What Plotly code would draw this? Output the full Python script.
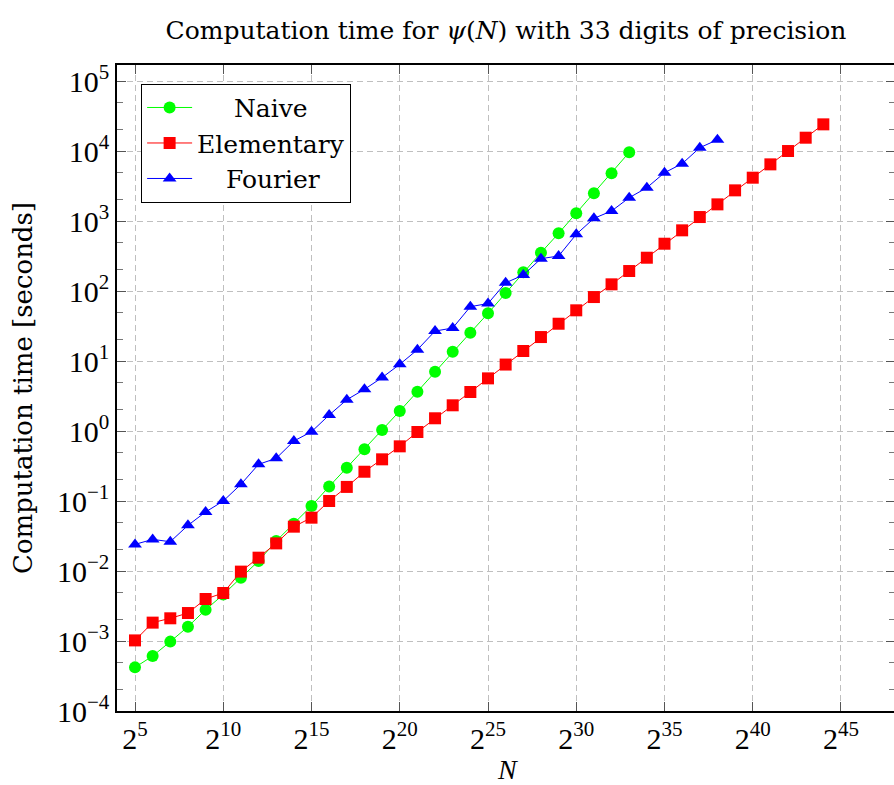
import plotly.graph_objects as go

# exponents k (N = 2^k)
naive_k = list(range(5, 34))
naive_t = [4.2e-4, 6.1e-4, 9.8e-4, 1.6e-3, 2.8e-3, 4.6e-3, 8.0e-3, 0.0139, 0.0268, 0.0474,
           0.085, 0.161, 0.299, 0.547, 1.03, 1.93, 3.65, 7.04, 13.6, 25.4,
           48.0, 94.0, 185, 353, 667, 1288, 2485, 4800, 9570]

elem_k = list(range(5, 45))
elem_t = [1.02e-3, 1.83e-3, 2.11e-3, 2.51e-3, 3.98e-3, 4.85e-3, 9.8e-3, 0.0155, 0.0248, 0.043,
          0.0578, 0.1, 0.159, 0.262, 0.394, 0.604, 0.968, 1.52, 2.33, 3.61,
          5.65, 8.9, 13.9, 22.0, 34.1, 53.0, 82.0, 124.6, 193, 299,
          474, 736, 1140, 1730, 2742, 4160, 6450, 10000, 15500, 24050]

four_k = list(range(5, 39))
four_t = [0.024, 0.0283, 0.0262, 0.0449, 0.0697, 0.1, 0.173, 0.334, 0.407, 0.72,
          0.977, 1.69, 2.8, 3.94, 5.8, 8.96, 14.5, 26.8, 29.6, 59.7,
          66.3, 131, 169, 290, 316, 645, 1092, 1389, 2154, 2990,
          4900, 6590, 11160, 14500]

x_tick_vals = [5, 10, 15, 20, 25, 30, 35, 40, 45]
x_tick_text = [f"2<sup>{k}</sup>" for k in x_tick_vals]
y_tick_vals = [1e-4, 1e-3, 1e-2, 1e-1, 1e0, 1e1, 1e2, 1e3, 1e4, 1e5]
y_tick_text = [f"10<sup>{str(e).replace('-', '−')}</sup>" for e in range(-4, 6)]

TEXT_FONT = "DejaVu Serif"
NUM_FONT = "Liberation Serif"
NB = "\u00a0"
TH = "\u2009"
GRID = "#bfbfbf"

fig = go.Figure()
fig.add_trace(go.Scatter(
    x=naive_k, y=naive_t, mode="lines+markers", name=NB * 4 + TH + "Naive",
    line=dict(color="#00ff00", width=1),
    marker=dict(symbol="circle", size=12, color="#00ff00"),
    legendgroup="a"))
fig.add_trace(go.Scatter(
    x=elem_k, y=elem_t, mode="lines+markers", name="Elementary",
    line=dict(color="#ff0000", width=1),
    marker=dict(symbol="square", size=12, color="#ff0000"),
    legendgroup="b"))
fig.add_trace(go.Scatter(
    x=four_k, y=four_t, mode="lines+markers", name=NB * 3 + TH + "Fourier",
    line=dict(color="#0000ff", width=1),
    marker=dict(symbol="triangle-up", size=12, color="#0000ff"),
    legendgroup="c"))

fig.update_layout(
    width=896, height=785,
    margin=dict(l=117, r=1, t=65, b=74, autoexpand=False),
    paper_bgcolor="white", plot_bgcolor="white",
    title=dict(text="Computation time for <i>ψ</i>(<i>N</i>) with 33 digits of precision",
               x=0.5647, xanchor="center", y=0.9618, yanchor="middle",
               font=dict(family=TEXT_FONT, size=25, color="black")),
    showlegend=True,
    legend=dict(x=0.031, y=0.971, xanchor="left", yanchor="top",
                bgcolor="white", bordercolor="black", borderwidth=1,
                font=dict(family=TEXT_FONT, size=25, color="black"),
                itemwidth=45, tracegroupgap=0),
    annotations=[dict(text="<i>N</i>", xref="paper", yref="paper", x=0.5025, y=-0.0913,
                      xanchor="center", yanchor="middle", showarrow=False,
                      font=dict(family=NUM_FONT, size=28, color="black"))],
)

fig.update_xaxes(
    range=[3.98, 48.06], showline=True, linecolor="black", linewidth=1.5, mirror="allticks",
    ticks="inside", ticklen=9, tickcolor="#555", tickmode="array",
    tickvals=x_tick_vals, ticktext=x_tick_text, automargin=False,
    tickfont=dict(family=NUM_FONT, size=30, color="black"),
    showgrid=True, gridcolor=GRID, griddash="6px,4px", gridwidth=1, zeroline=False,
)
fig.update_yaxes(
    type="log", range=[-4, 5.229], showline=True, linecolor="black", linewidth=1.5, mirror="allticks",
    ticks="inside", ticklen=9, tickcolor="#555", tickmode="array",
    tickvals=y_tick_vals, ticktext=y_tick_text, automargin=False,
    tickfont=dict(family=NUM_FONT, size=30, color="black"),
    showgrid=True, gridcolor=GRID, griddash="6px,4px", gridwidth=1, zeroline=False,
    minor=dict(ticks="inside", ticklen=6, tickcolor="#777", showgrid=False),
    title=dict(text="Computation time [seconds]", font=dict(family=TEXT_FONT, size=26, color="black"),
               standoff=17),
)

fig.write_html("out.html", config={"displayModeBar": False},
               post_script="document.body.style.margin='0';document.body.style.overflow='hidden';")
